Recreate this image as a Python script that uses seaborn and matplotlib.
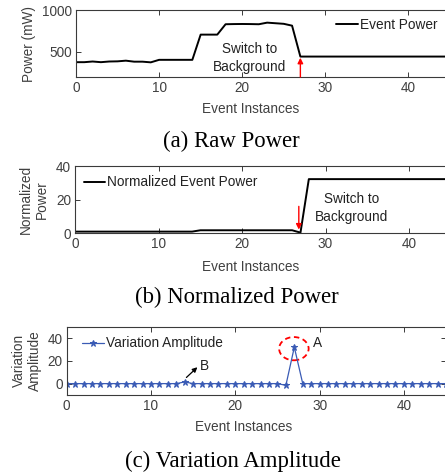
import numpy as np
import pandas as pd
import seaborn as sns
import matplotlib
matplotlib.use("Agg")
import matplotlib.pyplot as plt
from matplotlib.patches import Ellipse

# ---------------- data ----------------
instances = list(range(46))
raw_power = [377, 377, 385, 377, 385, 387, 395, 383, 383, 375,
             405, 405, 405, 405, 405, 706, 706, 706, 830, 832,
             833, 832, 830, 849, 842, 835, 813, 444] + [444] * 18
norm_power = [1.0] * 15 + [1.8] * 12 + [0.4] + [32.2] * 18
variation = [0] * 14 + [1.5] + [0] * 11 + [-1.5, 32.0] + [0] * 18

x_ticks = [0, 10, 20, 30, 40]
yticks_a = [500, 1000]
yticks_b = [0, 20, 40]
yticks_c = [0, 20, 40]

df = pd.DataFrame({"x": instances, "raw": raw_power,
                   "norm": norm_power, "var": variation})

sns.set_style("ticks")
plt.rcParams["font.family"] = ["Liberation Sans", "DejaVu Sans"]

W, H = 445, 475
fig = plt.figure(figsize=(W / 100, H / 100), dpi=100)

TXT = "#404040"
FS = 9.8


def add_axes(left, top, bottom, px_per10):
    right = left + 4.5 * px_per10
    return fig.add_axes([left / W, 1 - bottom / H, (right - left) / W,
                         (bottom - top) / H])


def style(ax, ylim, yticks):
    ax.set_xlim(0, 45)
    ax.set_ylim(*ylim)
    ax.set_xticks(x_ticks)
    ax.set_yticks(yticks)
    for s in ax.spines.values():
        s.set_color("#3a3a3a")
        s.set_linewidth(0.8)
        s.set_visible(True)
    ax.tick_params(direction="in", length=3.5, width=0.7, color="#3a3a3a",
                   labelsize=FS, labelcolor=TXT, top=True, right=True, pad=3)
    ax.tick_params(axis="x", pad=3)


# ---------------- (a) Raw power ----------------
axa = add_axes(76, 10, 77, 83.1)
sns.lineplot(data=df, x="x", y="raw", ax=axa, color="black", lw=1.4,
             label="Event Power")
style(axa, (200, 1000), yticks_a)
axa.set_xlabel("Event Instances", fontsize=FS, color=TXT)
axa.set_ylabel("Power (mW)", fontsize=FS, color=TXT, va="center")
axa.xaxis.set_label_coords(0.466, -0.37)
axa.yaxis.set_label_coords(-0.126, 0.5)
axa.legend(loc="center left", bbox_to_anchor=(0.695, 0.776), frameon=False,
           fontsize=FS, handlelength=1.6, handletextpad=0.15, borderpad=0,
           borderaxespad=0, labelcolor="#222222")
axa.text(20.9, 425, "Switch to\nBackground", ha="center", va="center",
         fontsize=FS, color="#222222", linespacing=1.35)
axa.annotate("", xy=(27, 430), xytext=(27, 200),
             arrowprops=dict(arrowstyle="-|>", color="red", lw=1.0,
                             mutation_scale=8, shrinkA=0, shrinkB=0))

# ---------------- (b) Normalized power ----------------
axb = add_axes(75.3, 166, 233.3, 83.4)
sns.lineplot(data=df, x="x", y="norm", ax=axb, color="black", lw=1.4,
             label="Normalized Event Power")
style(axb, (0, 40), yticks_b)
axb.set_xlabel("Event Instances", fontsize=FS, color=TXT)
axb.set_ylabel("Normalized\nPower", fontsize=FS, color=TXT, va="center")
axb.xaxis.set_label_coords(0.468, -0.39)
axb.yaxis.set_label_coords(-0.110, 0.5)
axb.legend(loc="center left", bbox_to_anchor=(0.022, 0.758), frameon=False,
           fontsize=FS, handlelength=1.6, handletextpad=0.15, borderpad=0,
           borderaxespad=0, labelcolor="#222222")
axb.text(33.1, 15, "Switch to\nBackground", ha="center", va="center",
         fontsize=FS, color="#222222", linespacing=1.35)
axb.annotate("", xy=(26.8, 2.2), xytext=(26.8, 16),
             arrowprops=dict(arrowstyle="-|>", color="red", lw=1.0,
                             mutation_scale=8, shrinkA=0, shrinkB=0))

# ---------------- (c) Variation amplitude ----------------
BLUE = "#3a5bb5"
axc = add_axes(66.7, 326.7, 395, 84.3)
sns.lineplot(data=df, x="x", y="var", ax=axc, color=BLUE, lw=0.9,
             marker="*", markersize=5, markeredgecolor=BLUE,
             label="Variation Amplitude")
style(axc, (-10, 50), yticks_c)
axc.set_xlabel("Event Instances", fontsize=FS, color=TXT)
axc.set_ylabel("Variation\nAmplitude", fontsize=FS, color=TXT, va="center")
axc.xaxis.set_label_coords(0.467, -0.36)
axc.yaxis.set_label_coords(-0.105, 0.5)
axc.legend(loc="center left", bbox_to_anchor=(0.040, 0.757), frameon=False,
           fontsize=FS, handlelength=1.6, handletextpad=0.15, borderpad=0,
           borderaxespad=0, labelcolor="#222222")
axc.add_patch(Ellipse((26.95, 30.7), width=3.5, height=20.4, fill=False,
                      ls=(0, (3, 2)), edgecolor="red", lw=1.3))
axc.text(29.8, 36, "A", fontsize=FS, color="#222222", ha="center",
         va="center")
axc.text(16.3, 15.3, "B", fontsize=FS, color="#222222", ha="center",
         va="center")
axc.annotate("", xy=(15.5, 14.4), xytext=(14.2, 5.4),
             arrowprops=dict(arrowstyle="-|>", color="black", lw=0.9,
                             mutation_scale=7, shrinkA=0, shrinkB=0))

# ---------------- captions ----------------
cap = dict(ha="center", va="center", fontsize=16.4, color="black",
           family=["Liberation Serif", "DejaVu Serif"])
fig.text(231 / W, 1 - 141 / H, "(a) Raw Power", **cap)
fig.text(236.5 / W, 1 - 297 / H, "(b) Normalized Power", **cap)
fig.text(233 / W, 1 - 461.7 / H, "(c) Variation Amplitude", **cap)

fig.savefig("out.png", dpi=100)
